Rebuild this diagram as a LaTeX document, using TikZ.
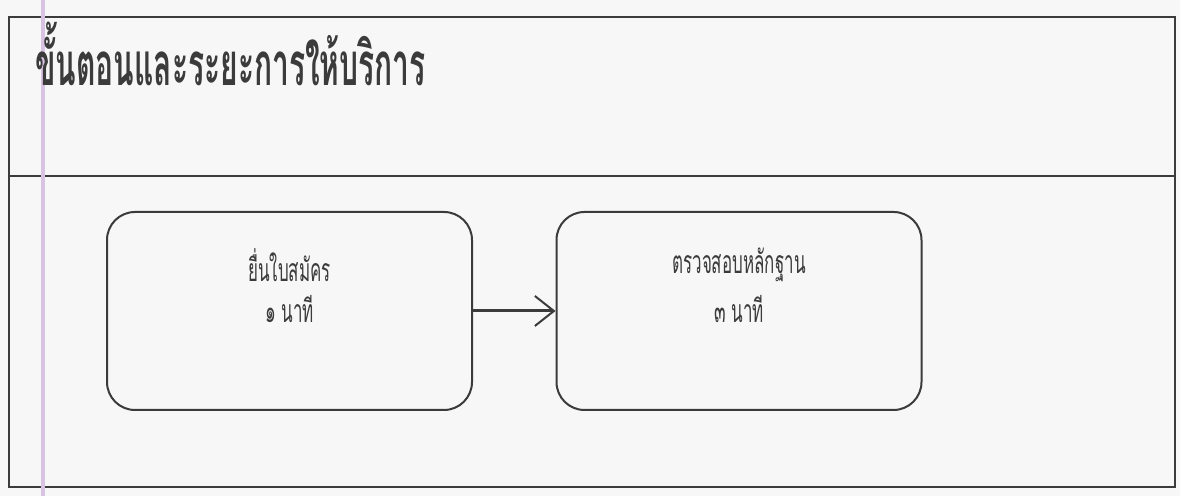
\documentclass[tikz,border=0pt]{standalone}
\usepackage{fontspec}
\newfontfamily\thaititle[Script=Thai,FakeStretch=0.5]{Loma}
\newfontfamily\thaibox[Script=Thai,FakeStretch=0.53]{Loma}
\usetikzlibrary{arrows.meta}
\usetikzlibrary{positioning}
\usepackage{xcolor}

\definecolor{paper}{HTML}{F7F7F7}
\definecolor{framegray}{HTML}{3B3B3B}
\definecolor{lavender}{HTML}{D9C3E3}

\tikzset{
  frame/.style={draw=framegray, line width=1pt},
  stepbox/.style={draw=framegray, line width=1pt, rounded corners=14pt,
    minimum width=182.5pt, minimum height=99pt},
  steptext/.style={font=\thaibox\fontsize{16}{18}\selectfont, text=framegray, inner sep=0pt},
}

\begin{document}
\begin{tikzpicture}[x=0.5pt,y=0.5pt]
      % Page
      \fill[paper] (0,0) rectangle (1180,496);
      \useasboundingbox (0,0) rectangle (1180,496);

      % Frame and title band
      \draw[frame] (9,9) rectangle (1175,479);
      \draw[frame] (9,320) -- (1175,320);
      \draw[lavender, line width=2pt] (43,0) -- (43,496);
      \node[anchor=base west, inner sep=0pt, text=framegray,
        font=\thaititle\bfseries\fontsize{30}{34}\selectfont] (title) at (35,410)
        {ขั้นตอนและระยะการให้บริการ};

      % Steps
      \node[stepbox] (apply) at (289.5,185) {};
      \node[stepbox] (check) at (739,185) {};

      \node[steptext] (applyname) at ([yshift=-27pt]apply.north) {ยื่นใบสมัคร};
      \node[steptext, below=6.5pt of applyname] (applytime) {๑ นาที};
      \node[steptext] (checkname) at ([yshift=-27pt]check.north) {ตรวจสอบหลักฐาน};
      \node[steptext, below=6.5pt of checkname] (checktime) {๓ นาที};

      % Arrow
      \draw[framegray, line width=1.5pt,
        -{Straight Barb[length=9.5pt, width=15pt, line width=1pt]}] (apply.east) -- (check.west);

  \end{tikzpicture}
\end{document}
